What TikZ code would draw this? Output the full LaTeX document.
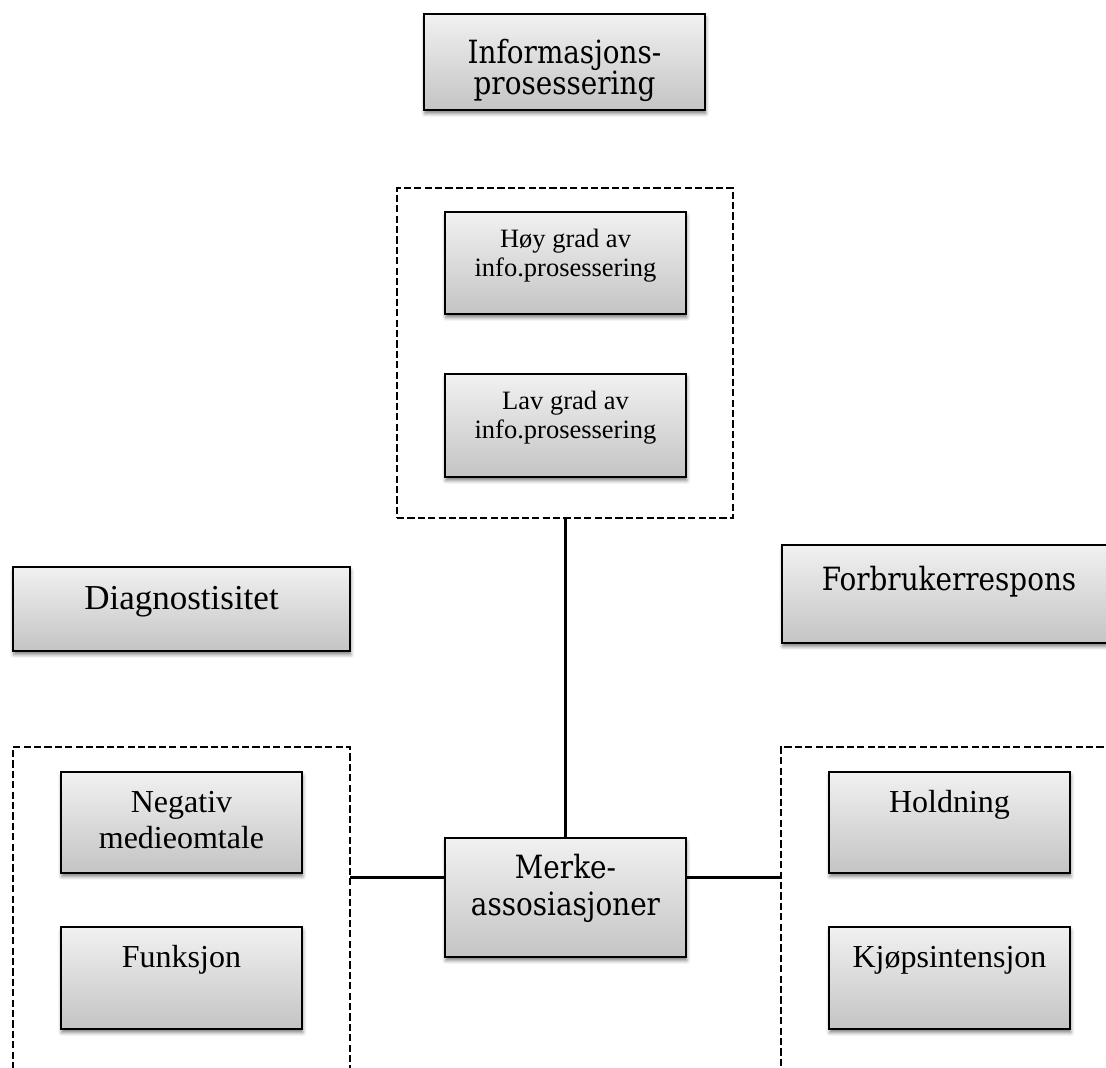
\documentclass[tikz,border=0pt]{standalone}
\usepackage{fontspec}
\setmainfont{Liberation Serif}
\newfontfamily\headfont{DejaVu Serif}[FakeStretch=0.87]
\usetikzlibrary{fit,shadows.blur}

\definecolor{boxtop}{RGB}{241,241,241}
\definecolor{boxbot}{RGB}{196,196,196}

\tikzset{
  box/.style={draw=black, line width=1.2pt, inner sep=0pt, outer sep=0pt,
    top color=boxtop, bottom color=boxbot,
    blur shadow={shadow xshift=0.4pt, shadow yshift=-1.8pt,
      shadow blur radius=1.8pt, shadow opacity=50}},
  group/.style={draw=black, line width=1.1pt, dash pattern=on 3.6pt off 1.6pt,
    inner sep=0pt, outer sep=0pt},
  wire/.style={line width=1.5pt},
  txtbase/.style={inner sep=0pt, anchor=base},
  bigtxt/.style={txtbase, font=\fontsize{17.5}{20}\selectfont},
  midtxt/.style={txtbase, font=\fontsize{16}{19}\selectfont},
  smalltxt/.style={txtbase, font=\fontsize{13.25}{16}\selectfont},
  headtxt/.style={txtbase, font=\headfont\fontsize{16}{19}\selectfont},
}

\begin{document}
\begin{tikzpicture}[x=0.5pt, y=-0.5pt]
\useasboundingbox (0,0) rectangle (1106,1068);
\clip (0,0) rectangle (1106,1068);

% dashed groups
\node[group, fit={(397,188) (733,518)}] (procgrp) {};
\node[group, fit={(13,747) (350,1110)}] (leftgrp) {};
\node[group, fit={(781,747) (1130,1110)}] (rightgrp) {};

% boxes
\node[box, fit={(424,14) (705,110)}] (info) {};
\node[box, fit={(445,212) (686,314)}] (hoy) {};
\node[box, fit={(445,374) (686,477)}] (lav) {};
\node[box, fit={(13,567) (350,651)}] (diag) {};
\node[box, fit={(782,545) (1116,643)}] (forbr) {};
\node[box, fit={(61,772) (302,873)}] (neg) {};
\node[box, fit={(61,927) (302,1029)}] (funk) {};
\node[box, fit={(445,838) (686,957)}] (merke) {};
\node[box, fit={(829,772) (1070,873)}] (hold) {};
\node[box, fit={(829,927) (1070,1029)}] (kjop) {};

% texts
\node[headtxt] (info-a) at (564.5,64) {Informasjons-};
\node[headtxt] (info-b) at (564.5,95) {prosessering};
\node[smalltxt] (hoy-a) at (565.5,248) {Høy grad av};
\node[smalltxt] (hoy-b) at (565.5,277) {info.prosessering};
\node[smalltxt] (lav-a) at (565.5,410) {Lav grad av};
\node[smalltxt] (lav-b) at (565.5,439) {info.prosessering};
\node[bigtxt] (diag-t) at (181.5,609) {Diagnostisitet};
\node[headtxt] (forbr-t) at (949,590) {Forbrukerrespons};
\node[midtxt] (neg-a) at (181.5,812) {Negativ};
\node[midtxt] (neg-b) at (181.5,848) {medieomtale};
\node[midtxt] (funk-t) at (181.5,967) {Funksjon};
\node[headtxt] (merke-a) at (565.5,878) {Merke-};
\node[headtxt] (merke-b) at (565.5,915) {assosiasjoner};
\node[midtxt] (hold-t) at (949.5,812) {Holdning};
\node[midtxt] (kjop-t) at (949.5,967) {Kjøpsintensjon};

% connectors
\draw[wire] (procgrp.south) -- (procgrp.south |- merke.north);
\draw[wire] (leftgrp.east |- 0,877) -- (merke.west |- 0,877);
\draw[wire] (merke.east |- 0,877) -- (rightgrp.west |- 0,877);
\end{tikzpicture}
\end{document}
